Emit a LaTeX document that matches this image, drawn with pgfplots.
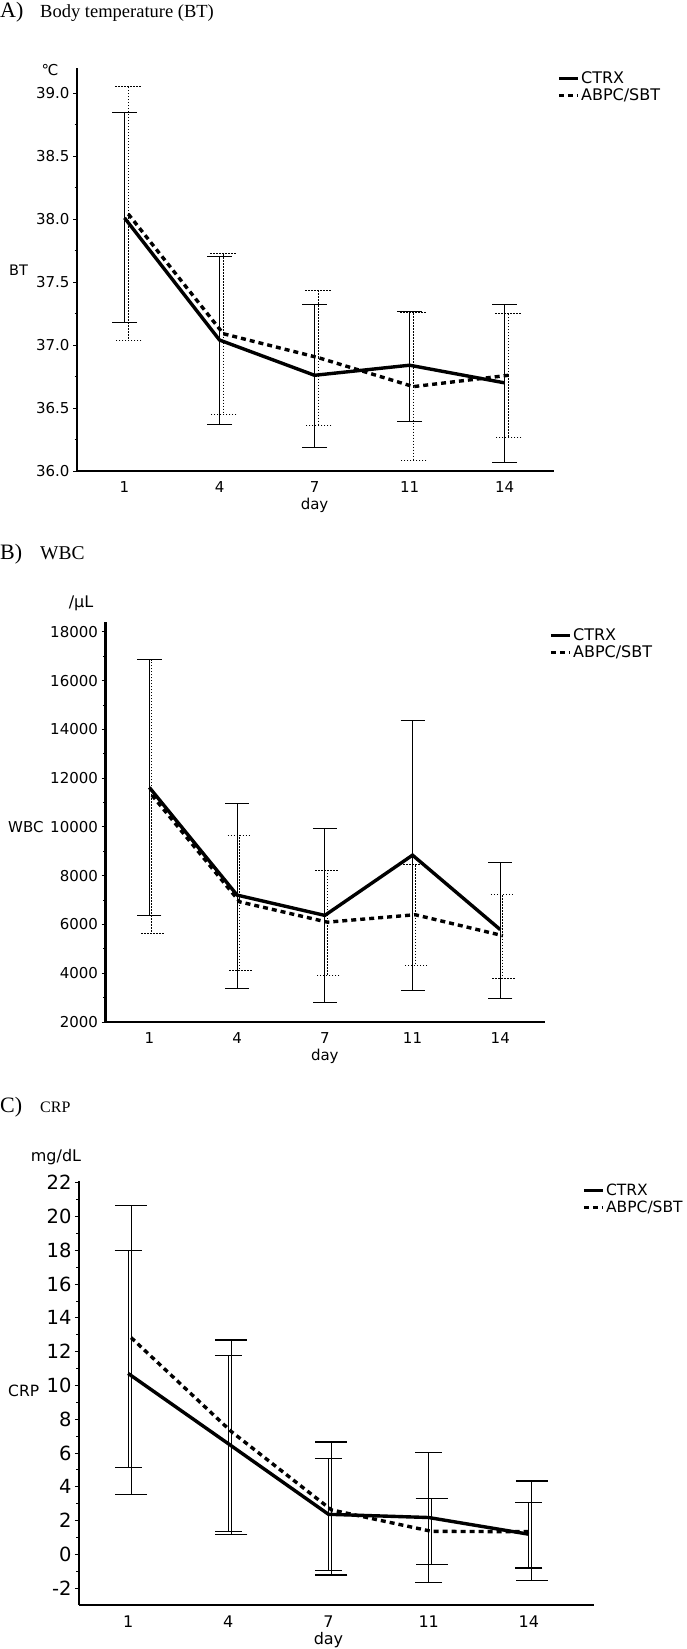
\documentclass[border=0pt]{standalone}
\usepackage{fontspec}
\setmainfont{DejaVu Sans}
\newfontfamily\serif{Liberation Serif}
\usepackage{pgfplots}
\pgfplotsset{compat=1.18}
\usepackage{pgfplotstable}
\newcommand\fs[1]{\fontsize{#1}{#1}\selectfont}

% Panel A: body temperature (x = category index, ep/em = upper/lower error)
\pgfplotstableread{
x y ep em
0 38.01 0.84 0.83
1 37.04 0.66 0.67
2 36.76 0.56 0.57
3 36.84 0.43 0.45
4 36.70 0.62 0.63
}\btctrx
\pgfplotstableread{
x y ep em
0.04 38.04 1.01 1.00
1.04 37.09 0.64 0.64
2.04 36.90 0.53 0.54
3.04 36.67 0.59 0.59
4.04 36.76 0.49 0.49
}\btabpc
% Panel B: WBC
\pgfplotstableread{
x y ep em
0 11616 5232 5245
1 7204 3746 3817
2 6371 3566 3566
3 8841 5537 5565
4 5788 2734 2817
}\wbcctrx
\pgfplotstableread{
x y ep em
0.03 11297 5551 5661
1.03 6926 2734 2803
2.03 6094 2123 2193
3.03 6399 2054 2082
4.03 5539 1692 1735
}\wbcabpc
% Panel C: CRP
\pgfplotstableread{
x y ep em
0 10.71 7.27 5.56
1 6.55 5.21 5.21
2 2.37 3.31 3.30
3 2.18 3.85 3.87
4 1.19 1.90 2.00
}\crpctrx
\pgfplotstableread{
x y ep em
0.03 12.83 7.81 9.31
1.03 7.27 5.42 6.12
2.03 2.63 4.02 3.85
3.03 1.36 1.95 1.96
4.03 1.34 3.00 2.87
}\crpabpc

\pgfplotsset{
  panel/.style={
    scale only axis, anchor=south west, clip=false,
    axis x line*=bottom, axis y line*=left,
    axis line style={line width=2.5pt,-},
    xtick={0,1,2,3,4}, xticklabels={1,4,7,11,14},
    xtick style={draw=none},
    tick align=outside,
    ytick style={line width=0.8pt,black},
    major tick length=4pt, minor tick length=2.5pt,
    minor y tick num=1,
    scaled y ticks=false,
    xticklabel style={yshift=-3pt},
    /pgf/number format/assume math mode=true,
    legend cell align=left,
    legend image code/.code={\draw[##1] (0pt,0pt) -- (19pt,0pt);},
    legend style={draw=none, fill=none, at={(rel axis cs:1,1)}, anchor=north west,
      inner sep=0pt, nodes={inner sep=1.5pt}, row sep=1pt},
  },
  ctrx/.style={black, line width=3.4pt, mark=none},
  abpc/.style={black, line width=3.4pt, dash pattern=on 5pt off 4pt, mark=none},
}

\begin{document}
\begin{tikzpicture}
\useasboundingbox (0,0) rectangle (686pt,-1649pt);

% ---------------- Panel A ----------------
\node[anchor=base west, font=\serif\fs{22}, inner sep=0pt] at (0pt,-17pt) {A)};
\node[anchor=base west, font=\serif\fs{18.5}, inner sep=0pt] at (40pt,-17pt) {Body temperature (BT)};
\node[font=\fs{15}] at (50pt,-70pt) {℃};
\node[anchor=west, font=\fs{14.5}, inner sep=0pt] at (9pt,-270pt) {BT};
\begin{axis}[panel, at={(77pt,-471pt)}, width=477pt, height=403pt,
  xmin=-0.5, xmax=4.52, ymin=36, ymax=39.2,
  ytick={36,36.5,37,37.5,38,38.5,39},
  yticklabels={36.0,36.5,37.0,37.5,38.0,38.5,39.0},
  ticklabel style={font=\fs{15}},
  legend style={font=\fs{16}, xshift=3pt, yshift=-2pt}]
\addplot[ctrx, error bars/.cd, y dir=both, y explicit, error mark=|,
  error bar style={line width=1.1pt, solid},
  error mark options={line width=1.1pt, mark size=12.5pt, solid}]
  table[x=x, y=y, y error plus=ep, y error minus=em] {\btctrx};
\addlegendentry{CTRX}
\addplot[abpc, error bars/.cd, y dir=both, y explicit, error mark=|,
  error bar style={line width=1pt, dash pattern=on 1.5pt off 1.5pt},
  error mark options={line width=1pt, mark size=13pt, dash pattern=on 1.5pt off 1.5pt}]
  table[x=x, y=y, y error plus=ep, y error minus=em] {\btabpc};
\addlegendentry{ABPC/SBT}
\node[font=\fs{15}, yshift=-34pt] at (axis cs:2,36) {day};
\end{axis}

% ---------------- Panel B ----------------
\node[anchor=base west, font=\serif\fs{22}, inner sep=0pt] at (0pt,-559pt) {B)};
\node[anchor=base west, font=\serif\fs{19.5}, inner sep=0pt] at (40pt,-559pt) {WBC};
\node[font=\fs{16}] at (81pt,-603pt) {/μL};
\node[anchor=west, font=\fs{15}, inner sep=0pt] at (8pt,-827pt) {WBC};
\begin{axis}[panel, at={(105.5pt,-1022pt)}, width=439.5pt, height=400pt,
  xmin=-0.5, xmax=4.51, ymin=2000, ymax=18400,
  ytick={2000,4000,6000,8000,10000,12000,14000,16000,18000},
  yticklabels={2000,4000,6000,8000,10000,12000,14000,16000,18000},
  ticklabel style={font=\fs{15}},
  legend style={font=\fs{16}, xshift=4pt, yshift=-5pt}]
\addplot[ctrx, error bars/.cd, y dir=both, y explicit, error mark=|,
  error bar style={line width=1.1pt, solid},
  error mark options={line width=1.1pt, mark size=12pt, solid}]
  table[x=x, y=y, y error plus=ep, y error minus=em] {\wbcctrx};
\addlegendentry{CTRX}
\addplot[abpc, error bars/.cd, y dir=both, y explicit, error mark=|,
  error bar style={line width=1pt, dash pattern=on 1.5pt off 1.5pt},
  error mark options={line width=1pt, mark size=12pt, dash pattern=on 1.5pt off 1.5pt}]
  table[x=x, y=y, y error plus=ep, y error minus=em] {\wbcabpc};
\addlegendentry{ABPC/SBT}
\node[font=\fs{15}, yshift=-34pt] at (axis cs:2,2000) {day};
\end{axis}

% ---------------- Panel C ----------------
\node[anchor=base west, font=\serif\fs{22}, inner sep=0pt] at (0pt,-1112pt) {C)};
\node[anchor=base west, font=\serif\fs{16}, inner sep=0pt] at (40pt,-1112pt) {CRP};
\node[font=\fs{16}] at (56pt,-1157pt) {mg/dL};
\node[anchor=west, font=\fs{15.5}, inner sep=0pt] at (8pt,-1391pt) {CRP};
\begin{axis}[panel, at={(79pt,-1605pt)}, width=515pt, height=424pt,
  xmin=-0.49, xmax=4.65, ymin=-3, ymax=22.1,
  ytick={-2,0,2,4,6,8,10,12,14,16,18,20,22},
  yticklabels={-2,0,2,4,6,8,10,12,14,16,18,20,22},
  yticklabel style={font=\fs{19.5}},
  xticklabel style={font=\fs{16}},
  legend style={font=\fs{15.5}, xshift=-12pt, yshift=-1pt}]
\addplot[ctrx, error bars/.cd, y dir=both, y explicit, error mark=|,
  error bar style={line width=1.1pt, solid},
  error mark options={line width=1.1pt, mark size=13.5pt, solid}]
  table[x=x, y=y, y error plus=ep, y error minus=em] {\crpctrx};
\addlegendentry{CTRX}
\addplot[abpc, error bars/.cd, y dir=both, y explicit, error mark=|,
  error bar style={line width=1.1pt, solid},
  error mark options={line width=1.1pt, mark size=16pt, solid}]
  table[x=x, y=y, y error plus=ep, y error minus=em] {\crpabpc};
\addlegendentry{ABPC/SBT}
\node[font=\fs{16}, yshift=-35pt] at (axis cs:2,-3) {day};
\end{axis}
\end{tikzpicture}
\end{document}
